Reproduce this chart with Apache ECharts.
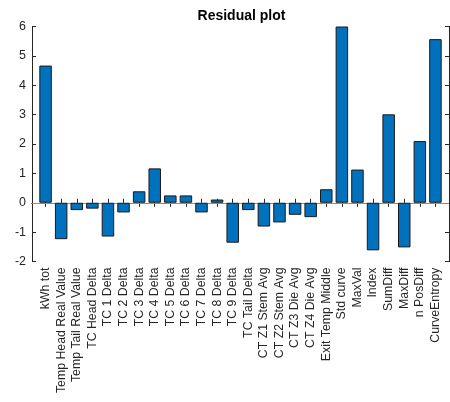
<!DOCTYPE html>
<html>
<head>
<meta charset="utf-8">
<script src="https://cdn.jsdelivr.net/npm/echarts@6/dist/echarts.min.js"></script>
<style>
  html, body { margin: 0; padding: 0; background: #fff; }
  #chart { width: 450px; height: 402px; }
</style>
</head>
<body>
<div id="chart"></div>
<script>
// Residual per feature
const categories = [
  'kWh tot', 'Temp Head Real Value', 'Temp Tail Real Value', 'TC Head Delta',
  'TC 1 Delta', 'TC 2 Delta', 'TC 3 Delta', 'TC 4 Delta', 'TC 5 Delta',
  'TC 6 Delta', 'TC 7 Delta', 'TC 8 Delta', 'TC 9 Delta', 'TC Tail Delta',
  'CT Z1 Stem Avg', 'CT Z2 Stem Avg', 'CT Z3 Die Avg', 'CT Z4 Die Avg',
  'Exit Temp Middle', 'Std curve', 'MaxVal', 'Index', 'SumDiff', 'MaxDiff',
  'n PosDiff', 'CurveEntropy'
];
const residuals = [
  4.67, -1.24, -0.25, -0.2, -1.15, -0.33, 0.39, 1.17, 0.25,
  0.25, -0.33, 0.11, -1.36, -0.25, -0.81, -0.67, -0.41, -0.49,
  0.46, 6.0, 1.13, -1.62, 3.01, -1.52, 2.1, 5.57
];
const yTicks = [-2, -1, 0, 1, 2, 3, 4, 5, 6];
const chartTitle = 'Residual plot';

const positions = categories.map((_, i) => i + 1);
const barData = residuals.map((v, i) => [positions[i], v]);

const axisColor = '#262626';
const font = 'Liberation Sans, Arial, Helvetica, sans-serif';

const chart = echarts.init(document.getElementById('chart'), null, { renderer: 'canvas' });

const xCommon = {
  type: 'value',
  min: 0.13,
  max: categories.length + 0.87,
  splitLine: { show: false },
  axisLine: { show: true, lineStyle: { color: axisColor, width: 1 } },
  axisTick: { show: true, inside: true, length: 4, customValues: positions,
              lineStyle: { color: axisColor } }
};

chart.setOption({
  animation: false,
  graphic: [{
    type: 'text',
    x: 241.5, y: 16,
    style: {
      text: chartTitle,
      align: 'center', verticalAlign: 'middle',
      fontFamily: font, fontSize: 14, fontWeight: 'bold', fill: '#000'
    }
  }],
  grid: { left: 32, right: 1, top: 26.5, bottom: 140.5, containLabel: false },
  xAxis: [
    Object.assign({}, xCommon, {
      position: 'bottom',
      axisLabel: {
        customValues: positions,
        rotate: 90,
        margin: 6,
        fontFamily: font, fontSize: 12.3, color: axisColor,
        formatter: v => categories[Math.round(v) - 1] || ''
      }
    }),
    Object.assign({}, xCommon, {
      position: 'top',
      axisLabel: { show: false }
    })
  ],
  yAxis: [
    {
      type: 'value', position: 'left', min: yTicks[0], max: yTicks[yTicks.length - 1], interval: 1,
      splitLine: { show: false },
      axisLine: { show: true, lineStyle: { color: axisColor } },
      axisTick: { show: true, inside: true, length: 4, lineStyle: { color: axisColor } },
      axisLabel: { margin: 6, fontFamily: font, fontSize: 12.5, color: axisColor }
    },
    {
      type: 'value', position: 'right', min: yTicks[0], max: yTicks[yTicks.length - 1], interval: 1,
      splitLine: { show: false },
      axisLine: { show: true, lineStyle: { color: axisColor } },
      axisTick: { show: true, inside: true, length: 4, lineStyle: { color: axisColor } },
      axisLabel: { show: false }
    }
  ],
  series: [{
    type: 'bar',
    xAxisIndex: 0,
    yAxisIndex: 0,
    data: barData,
    barWidth: 12.5,
    itemStyle: { color: '#0072BD', borderColor: '#1a1a1a', borderWidth: 1 },
    markLine: {
      silent: true,
      symbol: 'none',
      label: { show: false },
      lineStyle: { color: '#8c8c8c', type: 'solid', width: 1 },
      data: [{ yAxis: 0 }],
      z: 1
    }
  }]
});
</script>
</body>
</html>
